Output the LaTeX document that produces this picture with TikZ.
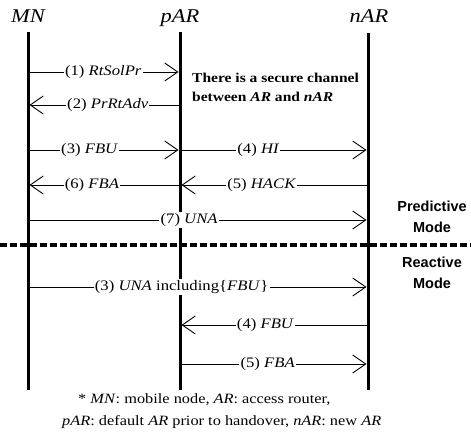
\documentclass[tikz,border=0pt]{standalone}
\usepackage{fontspec}
\setmainfont{Liberation Serif}[FakeStretch=1.15]
\newfontfamily\modefont{Liberation Sans}
\usetikzlibrary{arrows.meta}
\begin{document}
\begin{tikzpicture}[x=1pt,y=-1pt,
  lifeline/.style={line width=3pt},
  msg/.style={line width=0.9pt,-{Straight Barb[length=13pt,width=18pt,line width=0.9pt]}},
  lbl/.style={fill=white,inner sep=1.2pt,font=\fontsize{14.5}{16}\selectfont},
  head/.style={font=\fontsize{19.5}{22}\selectfont\itshape,anchor=base},
  modetxt/.style={font=\fontsize{14.5}{21}\selectfont\modefont\bfseries,align=center},
  note/.style={font=\fontsize{13.5}{19}\selectfont\bfseries,align=left,anchor=north west,inner sep=0pt},
  foot/.style={font=\fontsize{14.2}{17}\selectfont,anchor=base west,inner sep=0pt}]
\useasboundingbox (0,0) rectangle (471,438);
% headers
\node[head] (hmn) at (28,23) {MN};
\node[head] (hpar) at (180,23) {pAR};
\node[head] (hnar) at (369,23) {nAR};
% lifelines
\coordinate (mnT) at (28,32);  \coordinate (mnB) at (28,390);
\coordinate (parT) at (180,32); \coordinate (parB) at (180,390);
\coordinate (narT) at (368,33); \coordinate (narB) at (368,390);
\draw[lifeline] (mnT) -- (mnB);
\draw[lifeline] (parT) -- (parB);
\draw[lifeline] (narT) -- (narB);
% message endpoints
\coordinate (m1a) at (28,72);   \coordinate (m1b) at (178.5,72);
\coordinate (m2a) at (180,105); \coordinate (m2b) at (29.5,105);
\coordinate (m3a) at (28,150);  \coordinate (m3b) at (178.5,150);
\coordinate (m4a) at (180,150); \coordinate (m4b) at (366.5,150);
\coordinate (m6a) at (180,185); \coordinate (m6b) at (29.5,185);
\coordinate (m5a) at (368,185); \coordinate (m5b) at (181.5,185);
\coordinate (m7a) at (28,220);  \coordinate (m7b) at (366.5,220);
\coordinate (r3a) at (28,287);  \coordinate (r3b) at (366.5,287);
\coordinate (r4a) at (368,325); \coordinate (r4b) at (181.5,325);
\coordinate (r5a) at (180,364); \coordinate (r5b) at (366.5,364);
% messages
\draw[msg] (m1a) -- node[lbl,pos=0.5] {(1) \textit{RtSolPr}} (m1b);
\draw[msg] (m2a) -- node[lbl,pos=0.48] {(2) \textit{PrRtAdv}} (m2b);
\draw[msg] (m3a) -- node[lbl,pos=0.41] {(3) \textit{FBU}} (m3b);
\draw[msg] (m4a) -- node[lbl,pos=0.42] {(4) \textit{HI}} (m4b);
\draw[msg] (m6a) -- node[lbl,pos=0.585] {(6) \textit{FBA}} (m6b);
\draw[msg] (m5a) -- node[lbl,pos=0.57] {(5) \textit{HACK}} (m5b);
\draw[msg] (m7a) -- node[lbl,pos=0.476] {(7) \textit{UNA}} (m7b);
\draw[msg] (r3a) -- node[lbl,pos=0.454] {(3) \textit{UNA} including\{\textit{FBU}\}} (r3b);
\draw[msg] (r4a) -- node[lbl,pos=0.55] {(4) \textit{FBU}} (r4b);
\draw[msg] (r5a) -- node[lbl,pos=0.47] {(5) \textit{FBA}} (r5b);
% secure channel note
\node[note] (sec) at (192,73) {There is a secure channel\\between \textit{AR} and \textit{nAR}};
% mode separator
\coordinate (sepL) at (0,245); \coordinate (sepR) at (471,245);
\draw[line width=3.5pt,dash pattern=on 7pt off 3pt] (sepL) -- (sepR);
\node[modetxt] (pred) at (432,217) {Predictive\\Mode};
\node[modetxt] (react) at (432,273) {Reactive\\Mode};
% footnote
\node[foot] (f1) at (78,403) {* \textit{MN}: mobile node, \textit{AR}: access router,};
\node[foot] (f2) at (62,425) {\textit{pAR}: default \textit{AR} prior to handover, \textit{nAR}: new \textit{AR}};
\end{tikzpicture}
\end{document}
